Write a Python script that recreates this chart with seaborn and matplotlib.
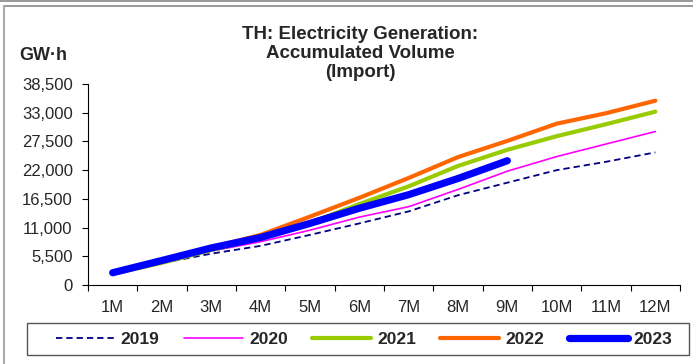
import pandas as pd
import matplotlib.pyplot as plt
import seaborn as sns
from matplotlib.lines import Line2D
from matplotlib.patches import Rectangle
from matplotlib.ticker import FuncFormatter, FixedLocator

# accumulated import volume, GW-h, by month
months = ["1M", "2M", "3M", "4M", "5M", "6M", "7M", "8M", "9M", "10M", "11M", "12M"]
y2019 = [2200, 4200, 6000, 7500, 9600, 11800, 14100, 17200, 19600, 22000, 23600, 25400]
y2020 = [2250, 4400, 6500, 8300, 10500, 13000, 15000, 18300, 21800, 24600, 27000, 29400]
y2021 = [2150, 4250, 6700, 9000, 11900, 15500, 18900, 22800, 25900, 28500, 30800, 33200]
y2022 = [2300, 4600, 7200, 9600, 13100, 16700, 20500, 24500, 27600, 30900, 32900, 35300]
y2023 = [2350, 4700, 7100, 9100, 11800, 14700, 17300, 20400, 23800]
yticks = [0, 5500, 11000, 16500, 22000, 27500, 33000, 38500]

sns.set_style("white")
plt.rcParams['font.family'] = ['Liberation Sans', 'DejaVu Sans']

fig = plt.figure(figsize=(6.93, 3.64), dpi=100)
ax = fig.add_axes([88/693, 1-285/364, (680-88)/693, (285-84)/364])

series = [
    ("2019", y2019, dict(color="#000080", lw=1.3, dashes=(3.5, 2.2))),
    ("2020", y2020, dict(color="#FF00FF", lw=1.2)),
    ("2021", y2021, dict(color="#99CC00", lw=3.0)),
    ("2022", y2022, dict(color="#FF6600", lw=3.0)),
    ("2023", y2023, dict(color="#0000FF", lw=5.2)),
]

handles = []
for name, vals, kw in series:
    df = pd.DataFrame({"x": range(1, len(vals) + 1), "v": vals})
    sns.lineplot(data=df, x="x", y="v", ax=ax, color=kw["color"], linewidth=kw["lw"],
                 solid_capstyle="round")
    line = ax.lines[-1]
    if "dashes" in kw:
        line.set_dashes(kw["dashes"])
    h = Line2D([], [], color=kw["color"], lw=kw["lw"], solid_capstyle="round")
    if "dashes" in kw:
        h.set_dashes(kw["dashes"])
    handles.append(h)

ax.set_xlim(0.5, 12.5)
ax.set_ylim(0, 38500)
ax.set_yticks(yticks)
ax.yaxis.set_major_formatter(FuncFormatter(lambda v, p: f"{v:,.0f}"))
ax.xaxis.set_major_locator(FixedLocator([i + 0.5 for i in range(0, 13)]))
ax.xaxis.set_major_formatter(FuncFormatter(lambda v, p: ""))
ax.xaxis.set_minor_locator(FixedLocator(range(1, 13)))
ax.set_xticklabels(months, minor=True)
ax.tick_params(axis="x", which="major", direction="out", length=4, width=0.8, color="black", bottom=True)
ax.tick_params(axis="x", which="minor", length=0, pad=11, labelsize=12)
ax.tick_params(axis="y", direction="out", length=4, width=0.8, color="black", left=True, pad=7, labelsize=12)
ax.set_xlabel("")
ax.set_ylabel("")
for s in ["top", "right"]:
    ax.spines[s].set_visible(False)
for s in ["left", "bottom"]:
    ax.spines[s].set_color("black")
    ax.spines[s].set_linewidth(0.8)

fig.text(360/693, 1-26/364, "TH: Electricity Generation:\nAccumulated Volume\n(Import)",
         ha="center", va="top", fontsize=13.5, fontweight="bold", linespacing=1.15)
fig.text(19/693, 1-56/364, "GW·h", ha="left", va="center", fontsize=13, fontweight="bold")

leg = fig.legend(handles, [s[0] for s in series], loc="center", bbox_to_anchor=(364/693, 1-339/364),
                 ncol=5, frameon=False, handlelength=3.4, handletextpad=0.35, columnspacing=1.4,
                 prop=dict(weight="bold", size=12.5))
fig.patches.append(Rectangle((27/693, 1-355/364), (689-27)/693, 32/364, transform=fig.transFigure,
                             fill=False, edgecolor="#555555", lw=1.0))

# outer frame
fig.lines.append(Line2D([0, 1], [1-1/364, 1-1/364], transform=fig.transFigure, color="#888888", lw=1.2))
fig.lines.append(Line2D([4/693, 1], [1-6/364, 1-6/364], transform=fig.transFigure, color="#888888", lw=1.2))
fig.lines.append(Line2D([4/693, 4/693], [0, 1-6/364], transform=fig.transFigure, color="#aaaaaa", lw=1.5))

fig.savefig("out.png", dpi=100)
